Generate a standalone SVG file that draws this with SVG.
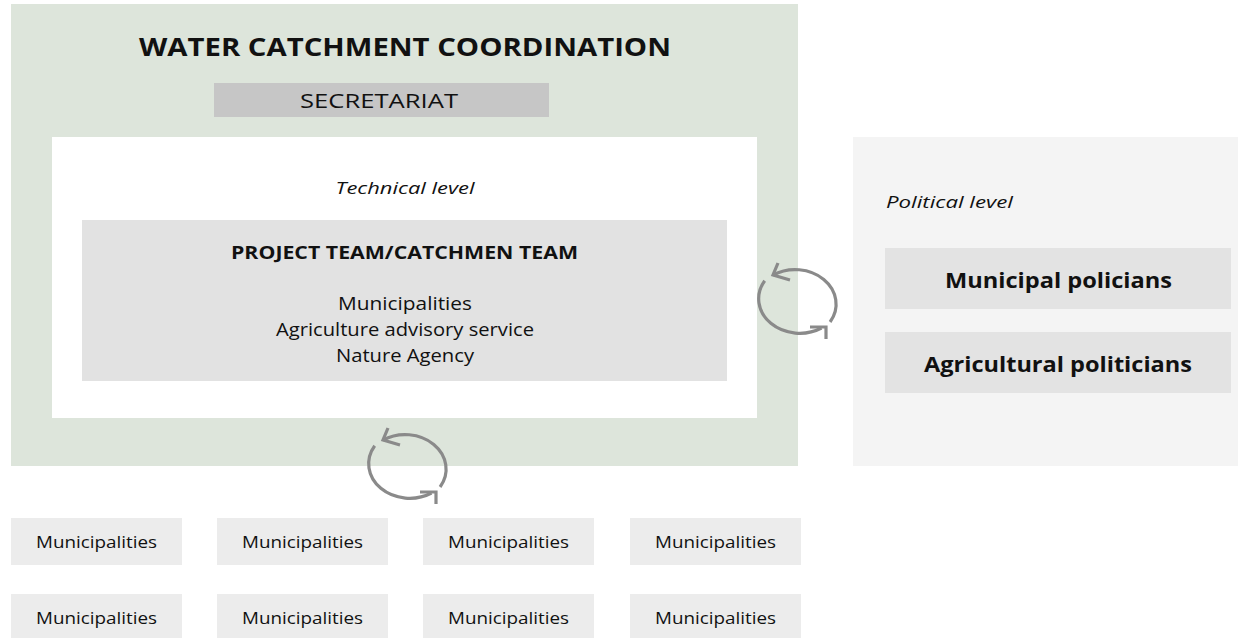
<svg xmlns="http://www.w3.org/2000/svg" width="1238" height="638" viewBox="0 0 1238 638">
<style>
  text { font-family: "Open Sans", "Noto Sans", "Liberation Sans", sans-serif; fill: #111; }
  .c { text-anchor: middle; }
  .b { font-weight: bold; }
  .i { font-style: italic; }
  .cyc { fill: none; stroke: #8a8a8a; stroke-width: 3.2; stroke-linecap: butt; stroke-linejoin: miter; }
  .muni { fill: #ececec; }
  .mt { font-size: 16px; }
</style>
<defs>
  <g id="cycle">
    <path class="cyc" d="M 33.6 19.5 A 41 34.5 0 0 0 -23.5 -27.5"/>
    <path class="cyc" d="M -31.8 -21.7 A 41 34.5 0 0 0 25 25.5"/>
    <path class="cyc" d="M -18.5 -39.5 L -23.5 -27.5 L -6.5 -22.5"/>
    <path class="cyc" d="M 13.5 24.5 L 29.5 24.5 L 29.5 36.5"/>
  </g>
</defs>
<rect width="1238" height="638" fill="#ffffff"/>

<g id="coordination">
  <rect x="11" y="4" width="787" height="462" fill="#dde5db"/>
  <text class="c b" x="405" y="56" font-size="25" textLength="532" lengthAdjust="spacingAndGlyphs">WATER CATCHMENT COORDINATION</text>
</g>

<g id="secretariat">
  <rect x="214" y="83" width="335" height="34" fill="#c6c6c6"/>
  <text class="c" x="379" y="108" font-size="20" textLength="158" lengthAdjust="spacingAndGlyphs">SECRETARIAT</text>
</g>

<g id="technical-level">
  <rect x="52" y="137" width="705" height="281" fill="#ffffff"/>
  <text class="c i" x="405" y="194" font-size="17" textLength="139" lengthAdjust="spacingAndGlyphs">Technical level</text>
</g>

<g id="project-team">
  <rect x="82" y="220" width="645" height="161" fill="#e2e2e2"/>
  <text class="c b" x="404.5" y="259" font-size="17" textLength="347" lengthAdjust="spacingAndGlyphs">PROJECT TEAM/CATCHMEN TEAM</text>
  <text class="c" x="405" y="310" font-size="19" textLength="134" lengthAdjust="spacingAndGlyphs">Municipalities</text>
  <text class="c" x="405" y="336" font-size="19" textLength="258" lengthAdjust="spacingAndGlyphs">Agriculture advisory service</text>
  <text class="c" x="405" y="362" font-size="19" textLength="138" lengthAdjust="spacingAndGlyphs">Nature Agency</text>
</g>

<g id="political-level">
  <rect x="853" y="137" width="385" height="329" fill="#f4f4f4"/>
  <text class="i" x="886" y="208" font-size="17" textLength="127" lengthAdjust="spacingAndGlyphs">Political level</text>
</g>

<g id="municipal-politicians">
  <rect x="885" y="248" width="346" height="61" fill="#e3e3e3"/>
  <text class="c b" x="1058.5" y="288" font-size="22" textLength="227" lengthAdjust="spacingAndGlyphs">Municipal policians</text>
</g>

<g id="agricultural-politicians">
  <rect x="885" y="332" width="346" height="61" fill="#e3e3e3"/>
  <text class="c b" x="1058" y="372" font-size="22" textLength="268" lengthAdjust="spacingAndGlyphs">Agricultural politicians</text>
</g>

<g id="muni-1"><rect class="muni" x="11" y="518" width="171" height="47"/><text class="c mt" x="96.5" y="548" textLength="121" lengthAdjust="spacingAndGlyphs">Municipalities</text></g>
<g id="muni-2"><rect class="muni" x="217" y="518" width="171" height="47"/><text class="c mt" x="302.5" y="548" textLength="121" lengthAdjust="spacingAndGlyphs">Municipalities</text></g>
<g id="muni-3"><rect class="muni" x="423" y="518" width="171" height="47"/><text class="c mt" x="508.5" y="548" textLength="121" lengthAdjust="spacingAndGlyphs">Municipalities</text></g>
<g id="muni-4"><rect class="muni" x="630" y="518" width="171" height="47"/><text class="c mt" x="715.5" y="548" textLength="121" lengthAdjust="spacingAndGlyphs">Municipalities</text></g>
<g id="muni-5"><rect class="muni" x="11" y="594" width="171" height="47"/><text class="c mt" x="96.5" y="624" textLength="121" lengthAdjust="spacingAndGlyphs">Municipalities</text></g>
<g id="muni-6"><rect class="muni" x="217" y="594" width="171" height="47"/><text class="c mt" x="302.5" y="624" textLength="121" lengthAdjust="spacingAndGlyphs">Municipalities</text></g>
<g id="muni-7"><rect class="muni" x="423" y="594" width="171" height="47"/><text class="c mt" x="508.5" y="624" textLength="121" lengthAdjust="spacingAndGlyphs">Municipalities</text></g>
<g id="muni-8"><rect class="muni" x="630" y="594" width="171" height="47"/><text class="c mt" x="715.5" y="624" textLength="121" lengthAdjust="spacingAndGlyphs">Municipalities</text></g>

<g id="connectors">
  <use href="#cycle" x="796.5" y="302.5"/>
  <use href="#cycle" x="406.5" y="467.5"/>
</g>
</svg>
